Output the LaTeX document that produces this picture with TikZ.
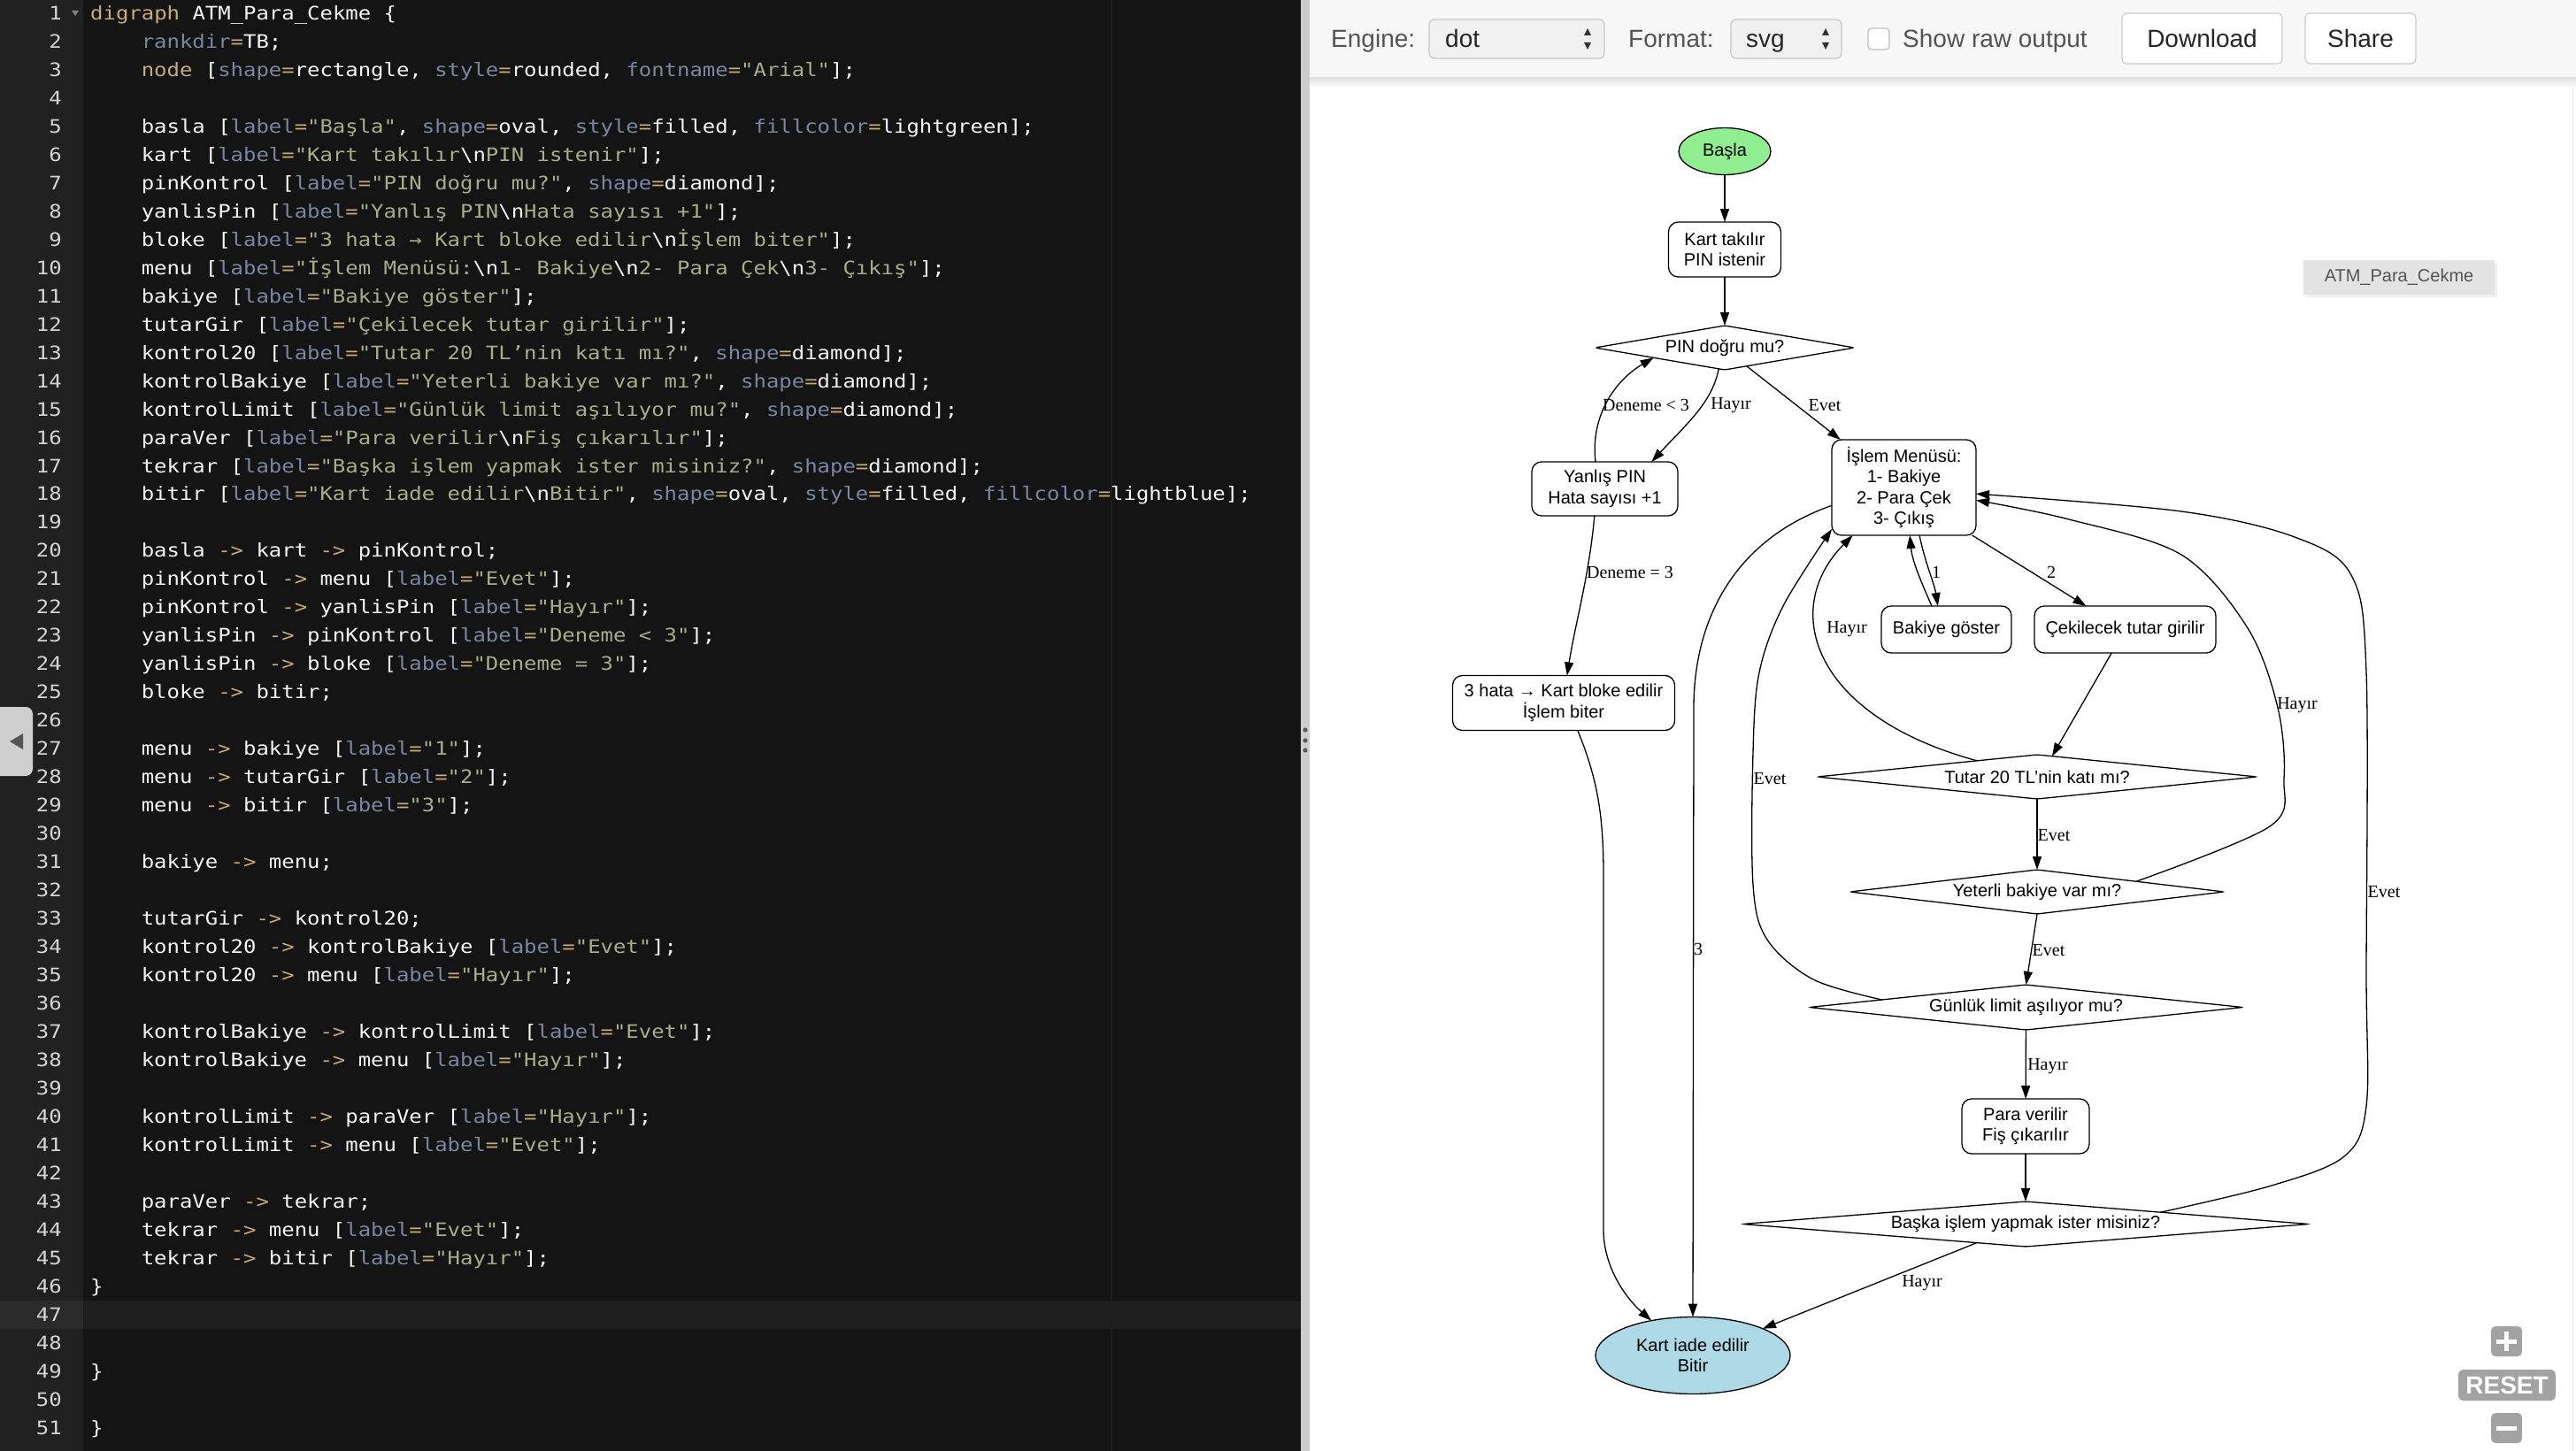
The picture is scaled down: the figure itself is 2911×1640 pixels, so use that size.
\documentclass[tikz,border=0pt]{standalone}
\usepackage{fontspec}
\setmainfont{Liberation Sans}
\newfontfamily\gvfont{Liberation Sans}
\newfontfamily\lblfont{Liberation Serif}
\newfontfamily\codefont{DejaVu Sans Mono}[FakeStretch=1.14]
\usetikzlibrary{arrows.meta,shapes.geometric}
\frenchspacing

\definecolor{edbg}{HTML}{141414}
\definecolor{gutbg}{HTML}{212121}
\definecolor{actbg}{HTML}{1F1F1F}
\definecolor{actgut}{HTML}{2B2B2B}
\definecolor{margc}{HTML}{1C1C1C}
\definecolor{kwc}{HTML}{C9AC7E}
\definecolor{atc}{HTML}{7B87A2}
\definecolor{stc}{HTML}{A8AE88}
\definecolor{txc}{HTML}{F5F5F5}
\definecolor{lnc}{HTML}{D5D5D5}
\definecolor{greenfill}{HTML}{90EE90}
\definecolor{bluefill}{HTML}{ADD8E6}
\definecolor{zoombtn}{HTML}{A2A2A2}

% syntax colours of the editor
\newcommand{\cKw}[1]{\textcolor{kwc}{#1}}
\newcommand{\cAt}[1]{\textcolor{atc}{#1}\textcolor{kwc}{=}}
\newcommand{\cSt}[1]{\textcolor{stc}{"#1"}}
\newcommand{\cNl}{\textcolor{txc}{\textbackslash n}}
\newcommand{\cAr}{\textcolor{kwc}{->}}

\begin{document}
\begin{tikzpicture}[x=1pt,y=-1pt]
\tikzstyle{code}=[anchor=base west,inner sep=0,text=txc,font=\codefont\fontsize{21}{25}\selectfont]
\tikzstyle{lnum}=[anchor=base east,inner sep=0,text=lnc,font=\codefont\fontsize{21}{25}\selectfont]
\tikzstyle{bar}=[inner sep=0,anchor=base west,text=black!67,font=\gvfont\fontsize{28}{32}\selectfont]
\tikzstyle{btn}=[draw=black!20,fill=white,rounded corners=5pt,line width=1.2pt,inner sep=0,text=black!85,font=\gvfont\fontsize{28}{32}\selectfont]
\tikzstyle{box}=[draw,line width=1.3pt,rounded corners=11pt,inner sep=0,outer sep=0,align=center,font=\gvfont\fontsize{20}{23.5}\selectfont]
\tikzstyle{oval}=[ellipse,draw,line width=1.3pt,inner sep=0,outer sep=0,align=center,font=\gvfont\fontsize{20}{23.5}\selectfont]
\tikzstyle{decide}=[diamond,draw,line width=1.3pt,rounded corners=3pt,inner sep=0,outer sep=0,font=\gvfont\fontsize{20}{23.5}\selectfont]
\tikzstyle{lbl}=[inner sep=0,font=\lblfont\fontsize{20}{23}\selectfont]
\tikzstyle{link}=[line width=1.3pt,-{Triangle[length=15pt,width=10pt]}]
\useasboundingbox (0,0) rectangle (2911,1640);

% editor
\fill[edbg] (0,0) rectangle (1470,1640);
\fill[gutbg] (0,0) rectangle (94,1640);
\fill[actgut] (0,1470) rectangle (94,1502);
\fill[actbg] (94,1470) rectangle (1470,1502);
\draw[margc,line width=1.5pt] (1256,0) -- (1256,1640);
\fill[black!50] (81,12) -- (89,12) -- (85,18) -- cycle;
\foreach \i in {1,...,51}
  \node[lnum] (num\i) at (70,{22.5+(\i-1)*31.97}) {\i};

\node[code] (c1) at (102,22.5) {\cKw{digraph} ATM\_Para\_Cekme \{};
\node[code] (c2) at (159.6,54.47) {\cAt{rankdir}TB;};
\node[code] (c3) at (159.6,86.44) {\cKw{node} [\cAt{shape}rectangle, \cAt{style}rounded, \cAt{fontname}\cSt{Arial}];};
\node[code] (c5) at (159.6,150.38) {basla [\cAt{label}\cSt{Başla}, \cAt{shape}oval, \cAt{style}filled, \cAt{fillcolor}lightgreen];};
\node[code] (c6) at (159.6,182.35) {kart [\cAt{label}\cSt{Kart takılır\cNl PIN istenir}];};
\node[code] (c7) at (159.6,214.32) {pinKontrol [\cAt{label}\cSt{PIN doğru mu?}, \cAt{shape}diamond];};
\node[code] (c8) at (159.6,246.29) {yanlisPin [\cAt{label}\cSt{Yanlış PIN\cNl Hata sayısı +1}];};
\node[code] (c9) at (159.6,278.26) {bloke [\cAt{label}\cSt{3 hata → Kart bloke edilir\cNl İşlem biter}];};
\node[code] (c10) at (159.6,310.23) {menu [\cAt{label}\cSt{İşlem Menüsü:\cNl 1- Bakiye\cNl 2- Para Çek\cNl 3- Çıkış}];};
\node[code] (c11) at (159.6,342.2) {bakiye [\cAt{label}\cSt{Bakiye göster}];};
\node[code] (c12) at (159.6,374.17) {tutarGir [\cAt{label}\cSt{Çekilecek tutar girilir}];};
\node[code] (c13) at (159.6,406.14) {kontrol20 [\cAt{label}\cSt{Tutar 20 TL’nin katı mı?}, \cAt{shape}diamond];};
\node[code] (c14) at (159.6,438.11) {kontrolBakiye [\cAt{label}\cSt{Yeterli bakiye var mı?}, \cAt{shape}diamond];};
\node[code] (c15) at (159.6,470.08) {kontrolLimit [\cAt{label}\cSt{Günlük limit aşılıyor mu?}, \cAt{shape}diamond];};
\node[code] (c16) at (159.6,502.05) {paraVer [\cAt{label}\cSt{Para verilir\cNl Fiş çıkarılır}];};
\node[code] (c17) at (159.6,534.02) {tekrar [\cAt{label}\cSt{Başka işlem yapmak ister misiniz?}, \cAt{shape}diamond];};
\node[code] (c18) at (159.6,565.99) {bitir [\cAt{label}\cSt{Kart iade edilir\cNl Bitir}, \cAt{shape}oval, \cAt{style}filled, \cAt{fillcolor}lightblue];};
\node[code] (c20) at (159.6,629.93) {basla \cAr{} kart \cAr{} pinKontrol;};
\node[code] (c21) at (159.6,661.9) {pinKontrol \cAr{} menu [\cAt{label}\cSt{Evet}];};
\node[code] (c22) at (159.6,693.87) {pinKontrol \cAr{} yanlisPin [\cAt{label}\cSt{Hayır}];};
\node[code] (c23) at (159.6,725.84) {yanlisPin \cAr{} pinKontrol [\cAt{label}\cSt{Deneme < 3}];};
\node[code] (c24) at (159.6,757.81) {yanlisPin \cAr{} bloke [\cAt{label}\cSt{Deneme = 3}];};
\node[code] (c25) at (159.6,789.78) {bloke \cAr{} bitir;};
\node[code] (c27) at (159.6,853.72) {menu \cAr{} bakiye [\cAt{label}\cSt{1}];};
\node[code] (c28) at (159.6,885.69) {menu \cAr{} tutarGir [\cAt{label}\cSt{2}];};
\node[code] (c29) at (159.6,917.66) {menu \cAr{} bitir [\cAt{label}\cSt{3}];};
\node[code] (c31) at (159.6,981.6) {bakiye \cAr{} menu;};
\node[code] (c33) at (159.6,1045.54) {tutarGir \cAr{} kontrol20;};
\node[code] (c34) at (159.6,1077.51) {kontrol20 \cAr{} kontrolBakiye [\cAt{label}\cSt{Evet}];};
\node[code] (c35) at (159.6,1109.48) {kontrol20 \cAr{} menu [\cAt{label}\cSt{Hayır}];};
\node[code] (c37) at (159.6,1173.42) {kontrolBakiye \cAr{} kontrolLimit [\cAt{label}\cSt{Evet}];};
\node[code] (c38) at (159.6,1205.39) {kontrolBakiye \cAr{} menu [\cAt{label}\cSt{Hayır}];};
\node[code] (c40) at (159.6,1269.33) {kontrolLimit \cAr{} paraVer [\cAt{label}\cSt{Hayır}];};
\node[code] (c41) at (159.6,1301.3) {kontrolLimit \cAr{} menu [\cAt{label}\cSt{Evet}];};
\node[code] (c43) at (159.6,1365.24) {paraVer \cAr{} tekrar;};
\node[code] (c44) at (159.6,1397.21) {tekrar \cAr{} menu [\cAt{label}\cSt{Evet}];};
\node[code] (c45) at (159.6,1429.18) {tekrar \cAr{} bitir [\cAt{label}\cSt{Hayır}];};
\node[code] (c46) at (102,1461.15) {\}};
\node[code] (c49) at (102,1557.06) {\}};
\node[code] (c51) at (102,1621) {\}};

% side tab and divider
\fill[black!19,rounded corners=8pt] (-12,799) rectangle (37,877);
\fill[black!67] (11,838) -- (26,829) -- (26,847) -- cycle;
\fill[black!20] (1470,0) rectangle (1480,1640);
\foreach \d in {825,837,848}
  \fill[black!65] (1475,\d) circle (2.6);

% output panel
\fill[white] (1480,0) rectangle (2911,1640);
\draw[black!9,line width=1pt] (2907,88) -- (2907,1640);
\fill[black!3] (1480,0) rectangle (2911,88);
\shade[top color=black!12,bottom color=white] (1480,88) rectangle (2911,99);
\draw[black!12,line width=1pt] (1480,88) -- (2911,88);
\node[bar] (engine) at (1504,54) {Engine:};
\draw[black!22,fill=black!6,rounded corners=6pt,line width=1.2pt] (1615,22) rectangle (1813,66);
\node[bar,text=black!85] (engineval) at (1633,54) {dot};
\fill[black!80] (1790,40) -- (1798,40) -- (1794,32) -- cycle;
\fill[black!80] (1790,48) -- (1798,48) -- (1794,56) -- cycle;
\node[bar] (format) at (1840,54) {Format:};
\draw[black!22,fill=black!6,rounded corners=6pt,line width=1.2pt] (1956,22) rectangle (2081,66);
\node[bar,text=black!85] (formatval) at (1973,54) {svg};
\fill[black!80] (2059,40) -- (2067,40) -- (2063,32) -- cycle;
\fill[black!80] (2059,48) -- (2067,48) -- (2063,56) -- cycle;
\draw[black!25,fill=white,rounded corners=4pt,line width=1.2pt] (2111,32) rectangle (2135,56);
\node[bar] (raw) at (2150,54) {Show raw output};
\node[btn,minimum width=181,minimum height=57] (download) at (2488.5,43.5) {Download};
\node[btn,minimum width=125,minimum height=57] (share) at (2667.5,43.5) {Share};

\fill[black!6] (2606,297) rectangle (2822,336);
\node[fill=black!11,minimum width=216,minimum height=39,inner sep=0,text=black!67,font=\gvfont\fontsize{20}{24}\selectfont] (gname) at (2711,313.5) {ATM\_Para\_Cekme};

\fill[zoombtn,rounded corners=5pt] (2815,1499) rectangle (2850,1533);
\draw[white,line width=5pt] (2821,1516) -- (2844,1516) (2832.5,1505) -- (2832.5,1527);
\node[fill=zoombtn,rounded corners=6pt,minimum width=110,minimum height=35,inner sep=0,text=white,font=\gvfont\bfseries\fontsize{28}{30}\selectfont] (reset) at (2833,1565.5) {RESET};
\fill[zoombtn,rounded corners=5pt] (2815,1597) rectangle (2850,1631);
\draw[white,line width=5pt] (2821,1614) -- (2844,1614);

% graph
\node[oval,fill=greenfill,minimum width=104,minimum height=53] (basla) at (1949,171) {Başla};
\node[box,minimum width=127,minimum height=62] (kart) at (1949,282) {Kart takılır\\PIN istenir};
\node[decide,shape aspect=5.86,minimum width=293,minimum height=50] (pin) at (1949,393) {PIN doğru mu?};
\node[box,minimum width=165,minimum height=61] (yan) at (1813.5,552.5) {Yanlış PIN\\Hata sayısı +1};
\node[box,minimum width=163,minimum height=108] (menu) at (2151.5,551) {İşlem Menüsü:\\1- Bakiye\\2- Para Çek\\3- Çıkış};
\node[box,minimum width=147,minimum height=53] (bakiye) at (2199.5,711.5) {Bakiye göster};
\node[box,minimum width=205,minimum height=53] (tutar) at (2401.5,711.5) {Çekilecek tutar girilir};
\node[box,minimum width=251,minimum height=62] (bloke) at (1767,794.5) {3 hata → Kart bloke edilir\\İşlem biter};
\node[decide,shape aspect=9.94,minimum width=497,minimum height=50] (k20) at (2302,878) {Tutar 20 TL’nin katı mı?};
\node[decide,shape aspect=8.46,minimum width=423,minimum height=50] (kB) at (2302,1008) {Yeterli bakiye var mı?};
\node[decide,shape aspect=9.6,minimum width=490,minimum height=51] (kL) at (2289.5,1138.5) {Günlük limit aşılıyor mu?};
\node[box,minimum width=144,minimum height=62] (para) at (2289,1273) {Para verilir\\Fiş çıkarılır};
\node[decide,shape aspect=12.55,minimum width=640,minimum height=51] (tekrar) at (2289,1383.5) {Başka işlem yapmak ister misiniz?};
\node[oval,fill=bluefill,minimum width=220,minimum height=87] (bitir) at (1913,1532) {Kart iade edilir\\Bitir};

\draw[link] (basla) -- (kart);
\draw[link] (kart) -- (pin);
\draw[link] (pin.-40) -- (menu.143);
\draw[link] (pin.-106) .. controls (1935,455) and (1905,480) .. (yan.30);
\draw[link] (yan.109) .. controls (1797,470) and (1825,430) .. (pin.-172);
\draw[link] (yan.-111) .. controls (1796,650) and (1780,705) .. (bloke.83);
\draw[link] (bloke.-63) .. controls (1805,880) and (1812,920) .. (1812,990) -- (1812,1390) .. controls (1812,1430) and (1835,1465) .. (bitir.140);
\draw[link] (menu.-166) .. controls (1960,610) and (1914,700) .. (1914,800) -- (bitir.north);
\draw[link] (menu.-72) .. controls (2175,635) and (2186,660) .. (bakiye.110);
\draw[link] (bakiye.122) .. controls (2172,660) and (2161,635) .. (menu.-83);
\draw[link] (menu.-35) -- (tutar.149);
\draw[link] (tutar.-120) -- (k20.54);
\draw[link] (k20.165) .. controls (2050,810) and (2010,690) .. (menu.-137);
\draw[link] (k20) -- (kB);
\draw[link] plot[smooth,tension=0.55] coordinates {(kB.6) (2565,934) (2581,880) (2574,800) (2540,710) (2465,627) (2338,587) (menu.-10)};
\draw[link] (kB.south) -- (kL.north);
\draw[link] plot[smooth,tension=0.55] coordinates {(kL.177) (2049,1107) (1997,1062) (1981,1000) (1981,850) (1988,760) (2015,685) (menu.-150)};
\draw[link] (kL) -- (para);
\draw[link] (para) -- (tekrar);
\draw[link] plot[smooth,tension=0.55] coordinates {(tekrar.5) (2567,1340) (2649,1307) (2674,1250) (2674,1100) (2674,760) (2657,650) (2593,607) (2465,578) (menu.-5)};
\draw[link] (tekrar.-159) -- (bitir.21);

\node[lbl] (tDen1) at (1860,458) {Deneme < 3};
\node[lbl] (tHay1) at (1956,458) {Hayır};
\node[lbl] (tEvet1) at (2062,458) {Evet};
\node[lbl] (tDen2) at (1842,647) {Deneme = 3};
\node[lbl] (tOne) at (2188,647) {1};
\node[lbl] (tTwo) at (2318,647) {2};
\node[lbl] (tThree) at (1919,1073) {3};
\node[lbl] (tHay2) at (2087,711) {Hayır};
\node[lbl] (tEvet2) at (2321,944) {Evet};
\node[lbl] (tHay3) at (2596,797) {Hayır};
\node[lbl] (tEvet3) at (2315,1074) {Evet};
\node[lbl] (tEvet4) at (2000,880) {Evet};
\node[lbl] (tHay4) at (2314,1205) {Hayır};
\node[lbl] (tEvet5) at (2694,1008) {Evet};
\node[lbl] (tHay5) at (2172,1450) {Hayır};
\end{tikzpicture}
\end{document}
